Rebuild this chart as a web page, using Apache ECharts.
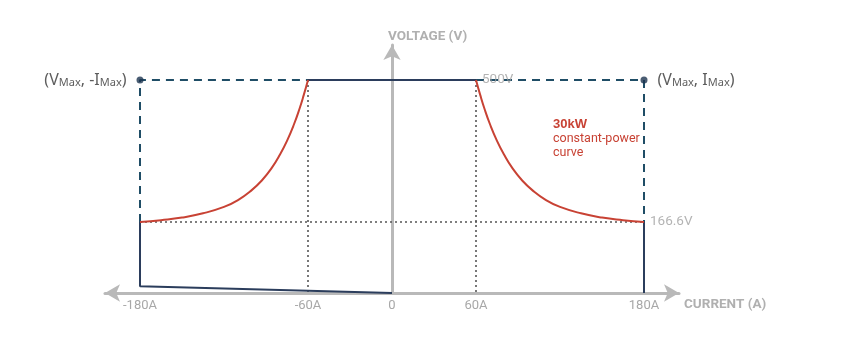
<!DOCTYPE html>
<html>
<head>
<meta charset="utf-8">
<script src="https://cdn.jsdelivr.net/npm/echarts@6/dist/echarts.min.js"></script>
<style>
  html, body { margin: 0; padding: 0; background: #fff; }
  #chart { width: 862px; height: 355px; }
</style>
</head>
<body>
<div id="chart"></div>
<script>
// tick labels on the current axis
var currentTicks = [-180, -60, 0, 60, 180];

// solid operating-area outline (navy)
var solidTop = [[-60, 500], [60, 500]];
var solidLeft = [[-180, 166.6], [-180, 16], [0, 0]];
var solidRight = [[180, 166.6], [180, 0]];

// dashed max envelope
var dashLeft = [[-180, 166.6], [-180, 500], [-60, 500]];
var dashRight = [[60, 500], [180, 500], [180, 166.6]];

// dotted guides
var dotH = [[-180, 166.6], [180, 166.6]];
var dotL = [[-60, 500], [-60, 0]];
var dotR = [[60, 500], [60, 0]];

// 30kW constant power curve, as drawn in the picture
var powerI = [60, 63, 66, 70, 75, 80, 86, 93, 100, 110, 120, 135, 150, 165, 180];
var powerV = [500, 465, 433, 396, 357, 325, 293, 264, 242, 218, 202, 187, 177, 171, 166.6];
var curveRight = powerI.map(function (c, i) { return [c, powerV[i]]; });
var curveLeft = powerI.map(function (c, i) { return [-c, powerV[i]]; });

// corner points
var corners = [[-180, 500], [180, 500]];

var navy = '#2b3d5c';
var dashBlue = '#1f4d66';
var red = '#c84234';
var gray = '#b9b9b9';

function lineSeries(data, style) {
  return {
    type: 'line', data: data, symbol: 'none', silent: true,
    lineStyle: style, z: style.z || 3
  };
}

var chart = echarts.init(document.getElementById('chart'));
var option = {
  animation: false,
  grid: { left: 105, right: 183, top: 45, bottom: 62, outerBoundsMode: 'none' },
  xAxis: {
    type: 'value', min: -205, max: 205,
    splitLine: { show: false },
    axisTick: { show: false },
    axisLine: {
      onZero: true, symbol: ['arrow', 'arrow'], symbolSize: [13, 15],
      lineStyle: { color: gray, width: 3 }
    },
    axisLabel: {
      customValues: currentTicks, margin: 6,
      color: '#a8a8a8', fontSize: 13, fontFamily: 'Roboto',
      formatter: function (v) { return v === 0 ? '0' : v + 'A'; }
    },
    name: 'CURRENT (A)', nameLocation: 'end', nameGap: 5,
    nameTextStyle: {
      color: '#b0b0b0', fontWeight: 'bold', fontSize: 13.5, fontFamily: 'Roboto',
      verticalAlign: 'top', padding: [5, 0, 0, 0]
    }
  },
  yAxis: {
    type: 'value', min: 0, max: 582,
    splitLine: { show: false },
    axisTick: { show: false },
    axisLabel: { show: false },
    axisLine: {
      onZero: true, symbol: ['none', 'arrow'], symbolSize: [13, 15],
      lineStyle: { color: gray, width: 3 }
    },
    name: 'VOLTAGE (V)', nameLocation: 'end', nameGap: 1,
    nameTextStyle: {
      color: '#b0b0b0', fontWeight: 'bold', fontSize: 13.5, fontFamily: 'Roboto',
      align: 'left', padding: [0, 0, 0, -4]
    }
  },
  graphic: [{
    type: 'text', left: 553, top: 117, silent: true,
    style: {
      text: '{b|30kW}\nconstant-power\ncurve',
      fill: red, font: '12.5px Roboto', lineHeight: 14.5,
      rich: { b: { fontWeight: 'bold', fontSize: 13, fill: red, lineHeight: 14.5 } }
    }
  }],
  series: [
    lineSeries(dotH, { color: '#555', width: 1.6, type: [2, 3], z: 2 }),
    lineSeries(dotL, { color: '#555', width: 1.6, type: [2, 3], z: 2 }),
    lineSeries(dotR, { color: '#555', width: 1.6, type: [2, 3], z: 2 }),
    lineSeries(dashLeft, { color: dashBlue, width: 2, type: [8, 6] }),
    lineSeries(dashRight, { color: dashBlue, width: 2, type: [8, 6] }),
    lineSeries(solidTop, { color: navy, width: 2 }),
    lineSeries(solidLeft, { color: navy, width: 2 }),
    lineSeries(solidRight, { color: navy, width: 2 }),
    {
      type: 'line', data: curveRight, smooth: true, symbol: 'none', silent: true,
      lineStyle: { color: red, width: 2 }, z: 4
    },
    {
      type: 'line', data: curveLeft, smooth: true, symbol: 'none', silent: true,
      lineStyle: { color: red, width: 2 }, z: 4
    },
    {
      type: 'scatter', data: [[60, 500], [180, 166.6]], symbolSize: 0, silent: true, z: 5,
      label: {
        show: true, position: 'right', distance: 6, color: '#a0a0a0',
        fontSize: 13.5, fontFamily: 'Roboto',
        formatter: function (p) { return p.value[1] + 'V'; }
      },
      labelLayout: { hideOverlap: false }
    },
    {
      type: 'scatter', symbolSize: 7, silent: true, z: 6,
      itemStyle: { color: '#1d3450' },
      data: [
        { value: corners[0], label: { position: 'left' } },
        { value: corners[1], label: { position: 'right' } }
      ],
      label: {
        show: true, distance: 10, color: '#333', fontFamily: 'Noto Sans', fontSize: 16,
        formatter: function (p) {
          return p.value[0] < 0 ? '(V{s|Max}, -I{s|Max})' : '(V{s|Max}, I{s|Max})';
        },
        rich: {
          s: { fontSize: 11, fontFamily: 'Noto Sans', color: '#333', verticalAlign: 'bottom', lineHeight: 10 }
        }
      }
    }
  ]
};
chart.setOption(option);
</script>
</body>
</html>
